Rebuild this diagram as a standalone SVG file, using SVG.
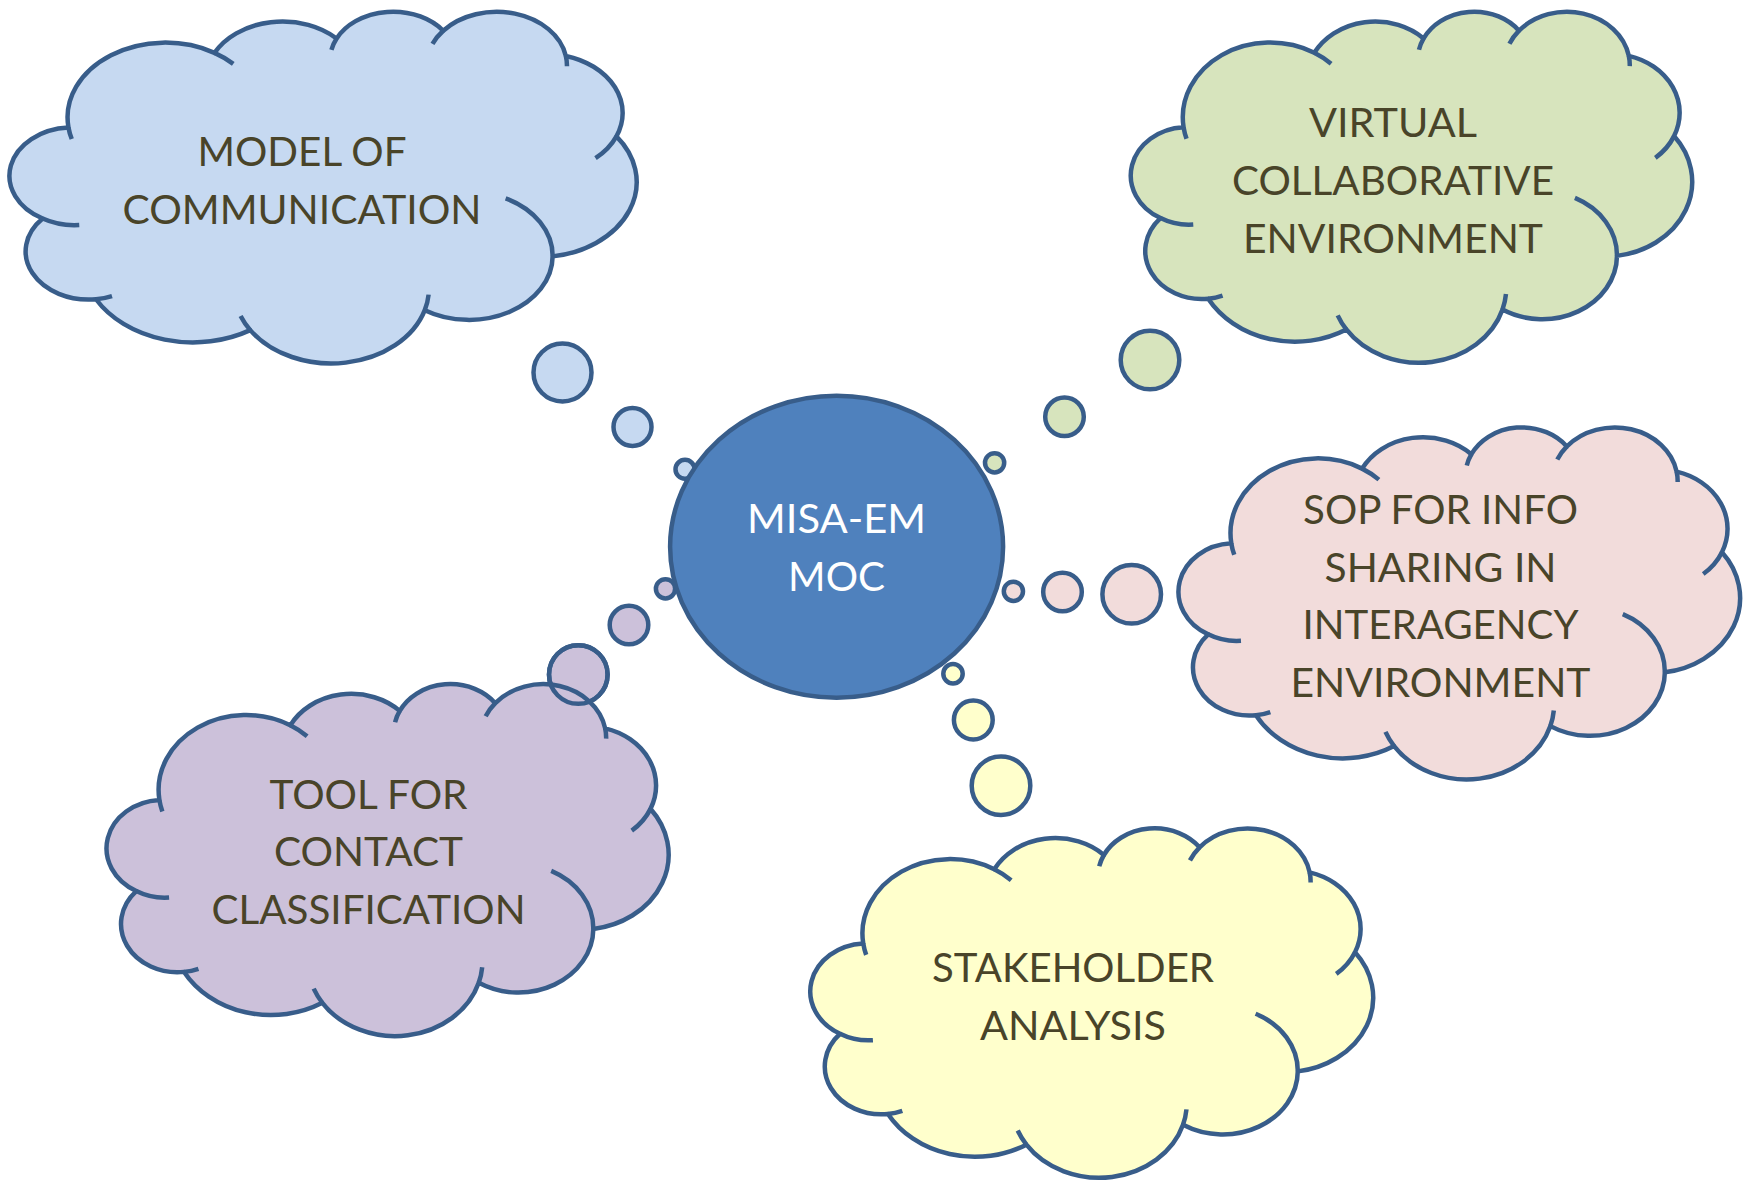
<svg xmlns="http://www.w3.org/2000/svg" xmlns:xlink="http://www.w3.org/1999/xlink" width="1750" height="1181" viewBox="0 0 1750 1181">
<style>
  .ol { stroke: #385D8A; stroke-width: 4.5; vector-effect: non-scaling-stroke; stroke-linejoin: round; }
  .arcs { fill: none; stroke: #385D8A; stroke-width: 4.5; vector-effect: non-scaling-stroke; stroke-linecap: butt; }
  .bub { stroke: #385D8A; stroke-width: 4.5; }
  .bubline { fill: none; stroke: #385D8A; stroke-width: 4.5; }
  .lbl { font-family: Lato, "Noto Sans", "DejaVu Sans", sans-serif; font-size: 41.5px; fill: #494429; text-anchor: middle; }
  .lblw { font-family: Lato, "Noto Sans", "DejaVu Sans", sans-serif; font-size: 41.5px; fill: #FFFFFF; text-anchor: middle; }
  .blue { fill: #C6D9F1; }
  .green { fill: #D7E4BD; }
  .pink { fill: #F2DCDB; }
  .purple { fill: #CCC1DA; }
  .yellow { fill: #FFFFCC; }
  .core { fill: #4F81BD; stroke: #385D8A; stroke-width: 4.5; }
</style>
<defs>
  <path id="cloud" class="ol" d="M9.028 33.264 A15.632 21.273 0 0 1 32.418 12.040 A12.345 16.822 0 0 1 51.981 7.943 A10.104 13.762 0 0 1 69.057 5.741 A11.243 15.266 0 0 1 88.699 12.906 A12.345 16.836 0 0 1 96.801 35.785 A15.683 21.343 0 0 1 86.584 69.913 A13.391 18.211 0 0 1 66.101 85.215 A15.630 21.331 0 0 1 38.149 90.889 A17.870 24.405 0 0 1 13.437 82.106 A10.093 13.699 0 0 1 4.892 59.139 A10.058 13.762 0 0 1 9.028 33.264 Z"/>
  <path id="cloudArcs" class="arcs" d="M10.756 60.984 A10.058 13.762 0 0 1 4.892 59.139 M16.003 81.223 A10.093 13.699 0 0 1 13.437 82.106 M38.149 90.889 A15.630 21.331 0 0 1 36.603 86.861 M66.718 80.795 A15.630 21.331 0 0 1 66.101 85.215 M79.057 53.396 A13.391 18.211 0 0 1 86.584 69.913 M96.801 35.785 A12.345 16.836 0 0 1 93.450 41.979 M88.699 12.906 A11.243 15.266 0 0 1 88.876 15.831 M67.339 9.476 A11.243 15.266 0 0 1 69.057 5.741 M51.149 11.160 A10.104 13.762 0 0 1 51.981 7.943 M32.418 12.040 A15.632 21.273 0 0 1 35.428 15.163 M9.553 36.547 A15.632 21.273 0 0 1 9.028 33.264"/>
</defs>

<g id="connectors">
  <g id="bubbles-model-of-communication" class="blue">
    <circle class="bub" cx="562.5" cy="372.5" r="29"/>
    <circle class="bub" cx="632.5" cy="427" r="19"/>
    <circle class="bub" cx="685" cy="469.3" r="9.5"/>
  </g>
  <g id="bubbles-virtual-collaborative-environment" class="green">
    <circle class="bub" cx="1150" cy="360" r="29.3"/>
    <circle class="bub" cx="1064.5" cy="416.8" r="19.3"/>
    <circle class="bub" cx="994.6" cy="462.8" r="9.6"/>
  </g>
  <g id="bubbles-sop-for-info-sharing" class="pink">
    <circle class="bub" cx="1131.7" cy="594.3" r="29.3"/>
    <circle class="bub" cx="1062.5" cy="592" r="19.3"/>
    <circle class="bub" cx="1013.4" cy="591.3" r="9.6"/>
  </g>
  <g id="bubbles-tool-for-contact-classification" class="purple">
    <circle id="purple-big-bubble" class="bub" cx="578.3" cy="674.5" r="29.3"/>
    <circle class="bub" cx="629" cy="625" r="19.3"/>
    <circle class="bub" cx="665.5" cy="588.8" r="9.6"/>
  </g>
  <g id="bubbles-stakeholder-analysis" class="yellow">
    <circle class="bub" cx="1001" cy="785.7" r="29.3"/>
    <circle class="bub" cx="973.3" cy="720" r="19.4"/>
    <circle class="bub" cx="953" cy="673.7" r="9.7"/>
  </g>
</g>

<g id="node-model-of-communication">
  <g transform="translate(12.1 10.55) scale(6.243 3.516)">
    <use xlink:href="#cloud" href="#cloud" class="blue"/>
    <use xlink:href="#cloudArcs" href="#cloudArcs"/>
  </g>
  <text class="lbl"><tspan x="302" y="165.5" textLength="209" lengthAdjust="spacingAndGlyphs">MODEL OF</tspan><tspan x="302" y="223.5" textLength="359" lengthAdjust="spacingAndGlyphs">COMMUNICATION</tspan></text>
</g>

<g id="node-virtual-collaborative-environment">
  <g transform="translate(1133.15 10.55) scale(5.588 3.509)">
    <use xlink:href="#cloud" href="#cloud" class="green"/>
    <use xlink:href="#cloudArcs" href="#cloudArcs"/>
  </g>
  <text class="lbl"><tspan x="1393" y="137" textLength="168" lengthAdjust="spacingAndGlyphs">VIRTUAL</tspan><tspan x="1393" y="195" textLength="322" lengthAdjust="spacingAndGlyphs">COLLABORATIVE</tspan><tspan x="1393" y="252.5" textLength="300" lengthAdjust="spacingAndGlyphs">ENVIRONMENT</tspan></text>
</g>

<g id="node-sop-for-info-sharing">
  <g transform="translate(1180.85 426.25) scale(5.590 3.519)">
    <use xlink:href="#cloud" href="#cloud" class="pink"/>
    <use xlink:href="#cloudArcs" href="#cloudArcs"/>
  </g>
  <text class="lbl"><tspan x="1440.5" y="523.5" textLength="275" lengthAdjust="spacingAndGlyphs">SOP FOR INFO</tspan><tspan x="1440.5" y="581.5" textLength="232" lengthAdjust="spacingAndGlyphs">SHARING IN</tspan><tspan x="1440.5" y="639.3" textLength="276" lengthAdjust="spacingAndGlyphs">INTERAGENCY</tspan><tspan x="1440.5" y="697" textLength="300" lengthAdjust="spacingAndGlyphs">ENVIRONMENT</tspan></text>
</g>

<g id="node-tool-for-contact-classification">
  <g transform="translate(108.9 682.95) scale(5.595 3.519)">
    <use xlink:href="#cloud" href="#cloud" class="purple"/>
    <use xlink:href="#cloudArcs" href="#cloudArcs"/>
  </g>
  <use xlink:href="#purple-big-bubble" href="#purple-big-bubble" class="bubline"/>
  <text class="lbl"><tspan x="368.5" y="808.5" textLength="198" lengthAdjust="spacingAndGlyphs">TOOL FOR</tspan><tspan x="368.5" y="866.3" textLength="189" lengthAdjust="spacingAndGlyphs">CONTACT</tspan><tspan x="368.5" y="923.5" textLength="314" lengthAdjust="spacingAndGlyphs">CLASSIFICATION</tspan></text>
</g>

<g id="node-stakeholder-analysis">
  <g transform="translate(812.65 827.25) scale(5.603 3.492)">
    <use xlink:href="#cloud" href="#cloud" class="yellow"/>
    <use xlink:href="#cloudArcs" href="#cloudArcs"/>
  </g>
  <text class="lbl"><tspan x="1073" y="982" textLength="282" lengthAdjust="spacingAndGlyphs">STAKEHOLDER</tspan><tspan x="1073" y="1039.5" textLength="186" lengthAdjust="spacingAndGlyphs">ANALYSIS</tspan></text>
</g>

<g id="node-misa-em-moc">
  <ellipse class="core" cx="836.6" cy="546.7" rx="166.5" ry="151"/>
  <text class="lblw"><tspan x="836.6" y="533" textLength="179" lengthAdjust="spacingAndGlyphs">MISA-EM</tspan><tspan x="836.6" y="591" textLength="97" lengthAdjust="spacingAndGlyphs">MOC</tspan></text>
</g>
</svg>
